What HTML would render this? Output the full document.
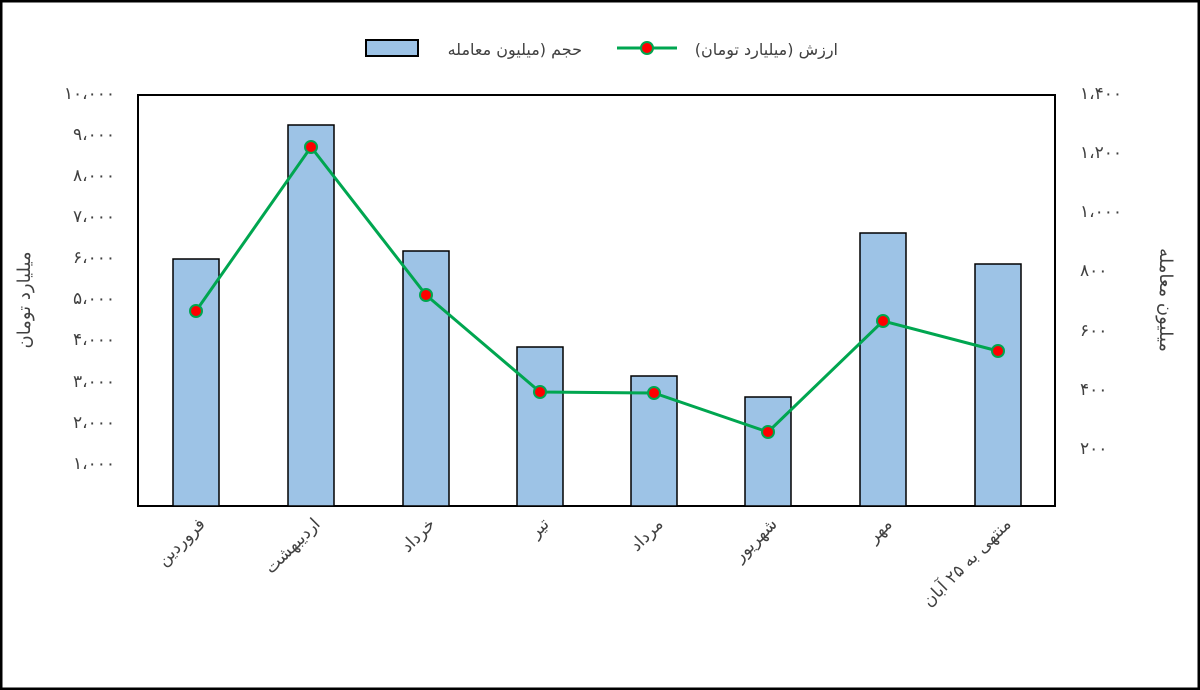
<!DOCTYPE html>
<html><head><meta charset="utf-8"><style>
html,body{margin:0;padding:0;background:#fff}
svg{display:block}
text{font-family:"DejaVu Sans","Liberation Sans",sans-serif;fill:#404040}
</style></head><body>
<svg width="1200" height="690" viewBox="0 0 1200 690" xmlns="http://www.w3.org/2000/svg">
<rect x="1" y="1" width="1198" height="688" fill="#fff" stroke="#000" stroke-width="3"/>
<!-- legend -->
<rect x="366" y="40" width="52" height="16" fill="#9dc3e6" stroke="#000" stroke-width="2"/>
<text x="582" y="55" font-size="16" text-anchor="end">حجم (میلیون معامله</text>
<line x1="617" y1="48" x2="677" y2="48" stroke="#00a650" stroke-width="3"/>
<circle cx="647" cy="48" r="6" fill="#f00" stroke="#00a650" stroke-width="2"/>
<text x="838" y="55" font-size="16" text-anchor="end">ارزش (میلیارد تومان)</text>
<!-- plot frame -->
<rect x="138" y="95" width="917" height="411" fill="none" stroke="#000" stroke-width="2"/>
<!-- bars -->
<g fill="#9dc3e6" stroke="#000" stroke-width="1.5">
<rect x="173" y="259" width="46" height="247"/>
<rect x="288" y="125" width="46" height="381"/>
<rect x="403" y="251" width="46" height="255"/>
<rect x="517" y="347" width="46" height="159"/>
<rect x="631" y="376" width="46" height="130"/>
<rect x="745" y="397" width="46" height="109"/>
<rect x="860" y="233" width="46" height="273"/>
<rect x="975" y="264" width="46" height="242"/>
</g>
<polyline points="196,311 311,147 426,295 540,392 654,393 768,432 883,321 998,351" fill="none" stroke="#00a650" stroke-width="3"/>
<g fill="#f00" stroke="#00a650" stroke-width="2">
<circle cx="196" cy="311" r="6"/><circle cx="311" cy="147" r="6"/><circle cx="426" cy="295" r="6"/><circle cx="540" cy="392" r="6"/>
<circle cx="654" cy="393" r="6"/><circle cx="768" cy="432" r="6"/><circle cx="883" cy="321" r="6"/><circle cx="998" cy="351" r="6"/>
</g>
<!-- left ticks -->
<g font-size="17" text-anchor="end" letter-spacing="3">
<text x="115" y="99">۱۰،۰۰۰</text><text x="115" y="140">۹،۰۰۰</text><text x="115" y="181">۸،۰۰۰</text>
<text x="115" y="222">۷،۰۰۰</text><text x="115" y="263">۶،۰۰۰</text><text x="115" y="304">۵،۰۰۰</text>
<text x="115" y="345">۴،۰۰۰</text><text x="115" y="387">۳،۰۰۰</text><text x="115" y="428">۲،۰۰۰</text>
<text x="115" y="469">۱،۰۰۰</text>
</g>
<g font-size="17" text-anchor="start" letter-spacing="3">
<text x="1080" y="99">۱،۴۰۰</text><text x="1080" y="158">۱،۲۰۰</text><text x="1080" y="217">۱،۰۰۰</text>
<text x="1080" y="276">۸۰۰</text><text x="1080" y="336">۶۰۰</text><text x="1080" y="395">۴۰۰</text><text x="1080" y="454">۲۰۰</text>
</g>
<text transform="translate(30,300) rotate(-90)" font-size="18" text-anchor="middle">میلیارد تومان</text>
<text transform="translate(1160,300) rotate(90)" font-size="18" text-anchor="middle">میلیون معامله</text>
<!-- categories -->
<g font-size="17" text-anchor="end">
<text transform="translate(206,525) rotate(-45)">فروردین</text>
<text transform="translate(321,525) rotate(-45)">اردیبهشت</text>
<text transform="translate(436,525) rotate(-45)">خرداد</text>
<text transform="translate(550,525) rotate(-45)">تیر</text>
<text transform="translate(664,525) rotate(-45)">مرداد</text>
<text transform="translate(778,525) rotate(-45)">شهریور</text>
<text transform="translate(893,525) rotate(-45)">مهر</text>
<text transform="translate(1012,525) rotate(-45)">منتهی به ۲۵ آبان</text>
</g>
</svg>
</body></html>
